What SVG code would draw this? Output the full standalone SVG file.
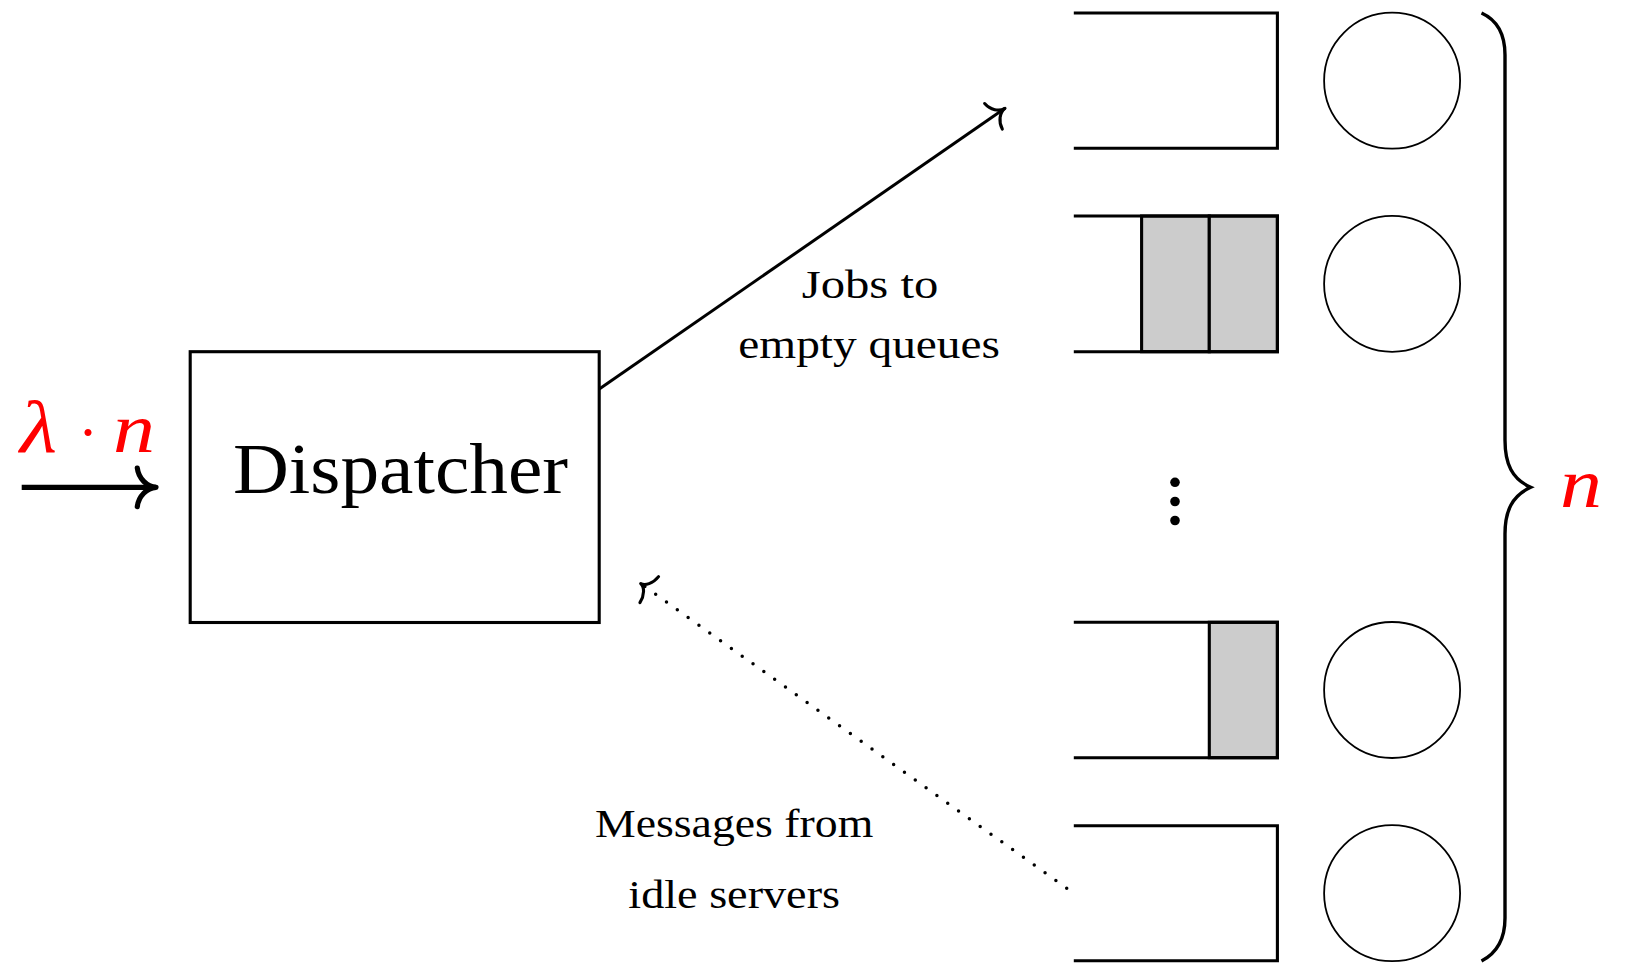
<svg xmlns="http://www.w3.org/2000/svg" width="1631" height="966" viewBox="0 0 1631 966">
  <style>
    .frame { fill: none; stroke: #000; stroke-width: 3.1; stroke-linejoin: miter; }
    .job { fill: #cccccc; stroke: #000; stroke-width: 3.1; }
    .server { fill: #fff; stroke: #000; stroke-width: 1.8; }
    .wire { fill: none; stroke: #000; stroke-width: 3; }
    .wire-thick { fill: none; stroke: #000; stroke-width: 5.2; }
    .dots { fill: none; stroke: #000; stroke-width: 3.5; stroke-linecap: round; stroke-dasharray: 0 13.3; }
    .head { fill: none; stroke: #000; stroke-linecap: round; stroke-linejoin: round; stroke-dasharray: none; }
    .label { font-family: "Liberation Serif", "Times New Roman", serif; font-size: 41px; fill: #000; }
    .big { font-family: "Liberation Serif", "Times New Roman", serif; font-size: 72px; fill: #000; }
    .math { font-family: "Liberation Serif", "Times New Roman", serif; font-size: 70px; fill: #ff0000; }
  </style>
  <defs>
    <marker id="to-thick" markerUnits="userSpaceOnUse" viewBox="-25 -25 30 50" markerWidth="30" markerHeight="50" refX="0" refY="0" orient="auto" overflow="visible">
      <path class="head" stroke-width="5.2" d="M-18.7,-19.3 C-17.5,-9 -9,-0.5 0,0 C-9,0.5 -17.5,9 -18.7,19.3"/>
    </marker>
    <marker id="to-thin" markerUnits="userSpaceOnUse" viewBox="-25 -25 30 50" markerWidth="30" markerHeight="50" refX="0" refY="0" orient="auto" overflow="visible">
      <path class="head" stroke-width="3.1" d="M-14,-15.5 C-13,-7 -7,-0.5 0,0 C-7,0.5 -13,7 -14,15.5"/>
    </marker>
    <marker id="to-dotted" markerUnits="userSpaceOnUse" viewBox="-25 -25 30 50" markerWidth="30" markerHeight="50" refX="0" refY="0" orient="auto" overflow="visible">
      <path class="head" stroke-width="3.1" d="M-10.5,-16 C-10,-7 -5,-0.5 0,0 C-5,0.5 -10,7 -10.5,16"/>
    </marker>
  </defs>

  <rect width="1631" height="966" fill="#fff"/>

  <!-- arrival rate -->
  <g id="arrivals">
    <text class="math" y="451.7"><tspan x="20" font-style="italic" font-size="74" textLength="37" lengthAdjust="spacingAndGlyphs">λ</tspan><tspan x="78" font-size="60">·</tspan><tspan x="113" font-style="italic" textLength="42" lengthAdjust="spacingAndGlyphs">n</tspan></text>
  </g>

  <!-- dispatcher -->
  <g id="dispatcher">
    <rect class="frame" x="190.2" y="351.7" width="409" height="270.8"/>
    <text class="big" x="233" y="493.3" textLength="335" lengthAdjust="spacingAndGlyphs">Dispatcher</text>
  </g>

  <!-- queues (open on the left) -->
  <g id="queue-1">
    <path class="frame" d="M1073.8,13 H1277.4 V148.3 H1073.8"/>
  </g>
  <g id="queue-2">
    <rect class="job" x="1141.6" y="216" width="67.7" height="135.7"/>
    <rect class="job" x="1209.3" y="216" width="68.1" height="135.7"/>
    <path class="frame" d="M1073.8,216 H1277.4 V351.7 H1073.8"/>
  </g>
  <g id="ellipsis">
    <circle cx="1175" cy="482.3" r="4.8"/>
    <circle cx="1175" cy="501.5" r="4.8"/>
    <circle cx="1175" cy="520.5" r="4.8"/>
  </g>
  <g id="queue-3">
    <rect class="job" x="1209.3" y="622.3" width="68.1" height="135.4"/>
    <path class="frame" d="M1073.8,622.3 H1277.4 V757.7 H1073.8"/>
  </g>
  <g id="queue-4">
    <path class="frame" d="M1073.8,825.7 H1277.4 V960.7 H1073.8"/>
  </g>

  <!-- servers -->
  <g id="server-1"><circle class="server" cx="1392.1" cy="80.7" r="68"/></g>
  <g id="server-2"><circle class="server" cx="1392.1" cy="283.8" r="68"/></g>
  <g id="server-3"><circle class="server" cx="1392.1" cy="690" r="68"/></g>
  <g id="server-4"><circle class="server" cx="1392.1" cy="893.2" r="68"/></g>

  <!-- brace over all servers -->
  <g id="brace">
    <path fill="none" stroke="#000" stroke-width="3.4" d="M1481.5,13 C1497,20 1505,33 1505,55 L1505,440 C1505,464 1512,479 1530.7,487.3 C1512,496 1505,511 1505,534 L1505,918 C1505,940 1497,953 1481.5,961"/>
    <text class="math" x="1560" y="506.7" font-style="italic" textLength="42" lengthAdjust="spacingAndGlyphs">n</text>
  </g>

  <!-- connectors -->
  <g id="connectors">
    <line class="wire-thick" x1="21.7" y1="487.3" x2="156" y2="487.3" marker-end="url(#to-thick)"/>
    <line class="wire" x1="599.3" y1="389" x2="1005" y2="108.3" marker-end="url(#to-thin)"/>
    <line class="dots" x1="1066.7" y1="888.3" x2="640.7" y2="583.5" marker-end="url(#to-dotted)"/>
  </g>

  <!-- connector labels -->
  <g id="labels">
    <text class="label" x="801.7" y="298.3" textLength="136.6" lengthAdjust="spacingAndGlyphs">Jobs to</text>
    <text class="label" x="738.3" y="358.3" textLength="261.7" lengthAdjust="spacingAndGlyphs">empty queues</text>
    <text class="label" x="595" y="836.7" textLength="278.3" lengthAdjust="spacingAndGlyphs">Messages from</text>
    <text class="label" x="628.3" y="908.3" textLength="211.7" lengthAdjust="spacingAndGlyphs">idle servers</text>
  </g>
</svg>
